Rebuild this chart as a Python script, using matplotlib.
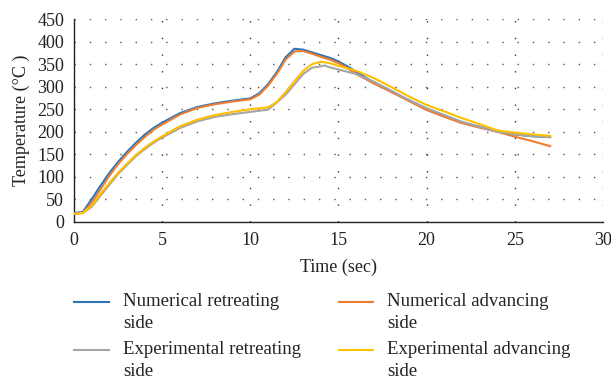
import matplotlib
matplotlib.use("Agg")
import matplotlib.pyplot as plt
from matplotlib.lines import Line2D

plt.rcParams['font.family'] = ['Liberation Serif', 'DejaVu Serif']

# Data
t_num = [0, 0.5, 1, 1.5, 2, 2.5, 3, 3.5, 4, 4.5, 5, 6, 7, 8, 9, 10, 10.5, 11, 11.5, 12,
         12.5, 13, 13.5, 14, 14.5, 15, 15.5, 16, 17, 18, 19, 20, 21, 22, 23, 24, 25, 26, 27]
num_retreating = [20, 22, 50, 80, 108, 133, 155, 175, 193, 208, 220, 241, 255, 263, 269, 274, 285, 305, 332, 365,
                  384, 382, 376, 370, 364, 356, 345, 333, 309, 289, 270, 251, 236, 221, 211, 201, 194, 190, 188]
num_advancing = [18, 20, 42, 72, 102, 128, 150, 170, 188, 204, 216, 238, 253, 261, 267, 272, 282, 302, 328, 360,
                 378, 379, 373, 366, 360, 352, 341, 328, 307, 288, 268, 248, 233, 219, 209, 200, 189, 179, 168]

t_exp = [0, 0.5, 1, 1.5, 2, 2.5, 3, 3.5, 4, 4.5, 5, 6, 7, 8, 9, 10, 11, 11.5, 12, 12.5,
         13, 13.5, 14, 14.2, 14.5, 15, 16, 17, 18, 19, 20, 21, 22, 23, 24, 25, 26, 27]
exp_retreating = [18, 20, 33, 58, 82, 106, 126, 145, 161, 175, 187, 208, 223, 233, 239, 244, 249, 265, 282, 305,
                  328, 342, 345, 347, 343, 338, 328, 311, 291, 270, 252, 237, 222, 211, 200, 194, 190, 188]
exp_advancing = [18, 20, 36, 62, 86, 109, 129, 148, 164, 178, 190, 212, 227, 237, 244, 250, 254, 266, 288, 312,
                 335, 350, 355, 354, 352, 346, 335, 319, 299, 278, 259, 245, 230, 217, 203, 198, 194, 191]

labels = [("Numerical retreating", "side"), ("Numerical advancing", "side"),
          ("Experimental retreating", "side"), ("Experimental advancing", "side")]
colors = ["#2E75B6", "#ED7D31", "#A5A5A5", "#FFC000"]

x_ticks = [0, 5, 10, 15, 20, 25, 30]
y_ticks = [0, 50, 100, 150, 200, 250, 300, 350, 400, 450]

W, H = 611, 380
fig = plt.figure(figsize=(W / 100, H / 100), dpi=100)
ax = fig.add_axes([0.121, 0.416, 0.866, 0.534])

series = [(t_num, num_retreating), (t_num, num_advancing), (t_exp, exp_retreating), (t_exp, exp_advancing)]
for (tx, ty), c in zip(series, colors):
    ax.plot(tx, ty, color=c, lw=1.5, solid_joinstyle='round', zorder=3)

ax.set_xlim(0, 30)
ax.set_ylim(0, 450)
ax.set_xticks(x_ticks)
ax.set_yticks(y_ticks)
ax.tick_params(axis='y', length=0, labelsize=13, colors='#222222', pad=7)
ax.tick_params(axis='x', length=0, labelsize=13, colors='#222222', pad=7)
for s in ['top', 'right']:
    ax.spines[s].set_visible(False)
for s in ['left', 'bottom']:
    ax.spines[s].set_color('#222222')
    ax.spines[s].set_linewidth(1.0)

for y in y_ticks[1:]:
    ax.axhline(y, color='#555555', lw=1.0, ls=(0, (1, 10)), zorder=1)
for x in x_ticks[1:]:
    ax.axvline(x, color='#333333', lw=1.0, ls=(0, (1, 11)), zorder=1)

ax.set_xlabel("Time (sec)", fontsize=13, color='#222222', labelpad=7)
ax.set_ylabel("Temperature (°C )", fontsize=13, color='#222222', labelpad=5)

# Manual legend (2 x 2 grid, handle aligned with first text line)
col_handle = [(74, 109), (339, 373)]
col_text = [123, 387]
row_y = [302, 350]
line_gap = 21
for i, ((l1, l2), c) in enumerate(zip(labels, colors)):
    r, k = divmod(i, 2)
    y = row_y[r]
    x0, x1 = col_handle[k]
    fig.add_artist(Line2D([x0 / W, x1 / W], [1 - y / H, 1 - y / H], color=c, lw=1.5,
                          transform=fig.transFigure))
    fig.text(col_text[k] / W, 1 - y / H, l1, fontsize=13.5, color='#222222', ha='left', va='center')
    fig.text(col_text[k] / W, 1 - (y + line_gap) / H, l2, fontsize=13.5, color='#222222',
             ha='left', va='center')

fig.savefig("out.png", dpi=100)
